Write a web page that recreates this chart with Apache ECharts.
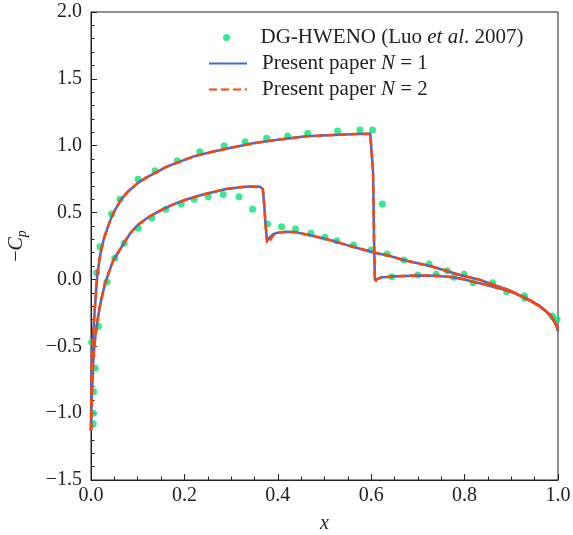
<!DOCTYPE html>
<html>
<head>
<meta charset="utf-8">
<script src="https://cdn.jsdelivr.net/npm/echarts@6/dist/echarts.min.js"></script>
<style>html,body{margin:0;padding:0;background:#fff;}#c{width:573px;height:535px;}</style>
</head>
<body>
<div id="c"></div>
<script>
// Upper surface (shock near x = 0.61)
var xUpper = [0, 0.0005, 0.0015, 0.003, 0.005, 0.0086, 0.012, 0.014, 0.017, 0.021, 0.028, 0.035, 0.041, 0.05, 0.065, 0.08, 0.1, 0.12, 0.14, 0.16, 0.186, 0.22, 0.26, 0.3, 0.35, 0.4, 0.46, 0.52, 0.57, 0.598, 0.602, 0.604, 0.606, 0.608, 0.612, 0.62, 0.64, 0.67, 0.7, 0.74, 0.775, 0.8, 0.818, 0.84, 0.861, 0.88, 0.897, 0.915, 0.93, 0.945, 0.961, 0.975, 0.985, 0.993, 0.998, 1.0];
var cpUpperN1 = [-1.13, -0.95, -0.65, -0.5, -0.38, -0.2, -0.03, 0.05, 0.12, 0.21, 0.31, 0.38, 0.44, 0.51, 0.6, 0.66, 0.72, 0.765, 0.8, 0.84, 0.875, 0.92, 0.955, 0.985, 1.02, 1.045, 1.07, 1.08, 1.087, 1.09, 1.08, 0.8, 0.3, -0.005, 0.005, 0.014, 0.021, 0.026, 0.03, 0.028, 0.017, 0.0, -0.017, -0.035, -0.055, -0.072, -0.09, -0.115, -0.14, -0.165, -0.2, -0.24, -0.28, -0.32, -0.36, -0.39];
var cpUpperN2 = [-1.13, -0.95, -0.65, -0.5, -0.38, -0.2, -0.03, 0.05, 0.12, 0.21, 0.31, 0.38, 0.44, 0.51, 0.6, 0.66, 0.72, 0.765, 0.8, 0.84, 0.875, 0.92, 0.955, 0.985, 1.02, 1.045, 1.07, 1.08, 1.087, 1.09, 1.085, 0.8, 0.3, -0.017, 0.0, 0.012, 0.02, 0.026, 0.03, 0.028, 0.017, 0.0, -0.017, -0.035, -0.055, -0.072, -0.09, -0.115, -0.14, -0.165, -0.2, -0.24, -0.28, -0.32, -0.36, -0.39];

// Lower surface (shock near x = 0.37)
var xLower = [0, 0.0005, 0.0015, 0.003, 0.005, 0.008, 0.012, 0.018, 0.024, 0.03, 0.04, 0.048, 0.056, 0.072, 0.085, 0.1, 0.125, 0.151, 0.175, 0.201, 0.24, 0.287, 0.319, 0.34, 0.362, 0.368, 0.371, 0.374, 0.377, 0.379, 0.383, 0.39, 0.4, 0.419, 0.44, 0.469, 0.5, 0.526, 0.55, 0.576, 0.608, 0.64, 0.669, 0.726, 0.76, 0.79, 0.83, 0.861, 0.895, 0.925, 0.961, 0.985, 0.998, 1.0];
var cpLowerN1 = [-1.13, -1.0, -0.9, -0.75, -0.6, -0.47, -0.35, -0.22, -0.12, -0.03, 0.07, 0.145, 0.19, 0.28, 0.35, 0.407, 0.47, 0.52, 0.56, 0.594, 0.635, 0.675, 0.69, 0.695, 0.693, 0.675, 0.55, 0.4, 0.29, 0.285, 0.315, 0.338, 0.35, 0.357, 0.352, 0.33, 0.305, 0.28, 0.255, 0.23, 0.2, 0.175, 0.145, 0.1, 0.065, 0.033, 0.0, -0.04, -0.08, -0.13, -0.2, -0.27, -0.35, -0.38];
var cpLowerN2 = [-1.13, -1.0, -0.9, -0.75, -0.6, -0.47, -0.35, -0.22, -0.12, -0.03, 0.07, 0.145, 0.19, 0.28, 0.35, 0.407, 0.47, 0.52, 0.56, 0.594, 0.635, 0.675, 0.69, 0.695, 0.693, 0.675, 0.55, 0.4, 0.27, 0.262, 0.29, 0.33, 0.348, 0.357, 0.352, 0.33, 0.305, 0.28, 0.255, 0.23, 0.2, 0.175, 0.145, 0.1, 0.065, 0.033, 0.0, -0.04, -0.08, -0.13, -0.2, -0.27, -0.35, -0.38];

// DG-HWENO reference points (Luo et al. 2007)
var refX = [0.005, 0.005, 0.006, 0.009, 0.0015, 0.012, 0.019, 0.044, 0.062, 0.101, 0.137, 0.185, 0.233, 0.285, 0.33, 0.376, 0.421, 0.464, 0.528, 0.576, 0.603, 0.624,
            0.644, 0.7, 0.739, 0.777, 0.818, 0.89, 0.929, 0.988, 0.998,
            0.016, 0.034, 0.051, 0.071, 0.101, 0.13, 0.16, 0.193, 0.221, 0.251, 0.283, 0.317, 0.346, 0.378, 0.408, 0.438, 0.471, 0.501, 0.526, 0.562, 0.6, 0.634, 0.67, 0.724, 0.763, 0.799, 0.86, 0.928];
var refCp = [-1.08, -1.0, -0.84, -0.665, -0.47, 0.05, 0.245, 0.49, 0.6, 0.749, 0.813, 0.888, 0.955, 1.0, 1.03, 1.055, 1.073, 1.093, 1.11, 1.117, 1.117, 0.564,
             0.02, 0.033, 0.038, 0.016, -0.025, -0.092, -0.14, -0.274, -0.3,
             -0.35, -0.02, 0.158, 0.27, 0.382, 0.46, 0.524, 0.564, 0.6, 0.618, 0.636, 0.618, 0.524, 0.414, 0.394, 0.377, 0.345, 0.315, 0.29, 0.257, 0.22, 0.19, 0.145, 0.115, 0.065, 0.038, -0.025, -0.122];

var xTicks = [0.0, 0.2, 0.4, 0.6, 0.8, 1.0];
var yTicks = [-1.5, -1.0, -0.5, 0.0, 0.5, 1.0, 1.5, 2.0];

function zip(a, b) { return a.map(function (v, i) { return [v, b[i]]; }); }

var FONT = 'Liberation Serif';
var AX = '#222';
var TXT = '#222';
var chart = echarts.init(document.getElementById('c'), null, { renderer: 'canvas' });
var fmt = function (v) { return v.toFixed(1).replace('-', '\u2212'); };

var legendRich = {
  r: { fontFamily: FONT, fontSize: 21, color: TXT },
  i: { fontFamily: FONT, fontSize: 21, color: TXT, fontStyle: 'italic' }
};

chart.setOption({
  animation: false,
  backgroundColor: '#fff',
  grid: { left: 91, right: 15, top: 12, bottom: 55, show: true, borderColor: AX, borderWidth: 1, backgroundColor: 'transparent', outerBoundsMode: 'none', containLabel: false },
  legend: [
    {
      data: ['DG-HWENO'], left: 223, top: 27, orient: 'vertical', padding: 0,
      itemWidth: 38, itemHeight: 7, icon: 'circle',
      formatter: function () { return '{r|DG-HWENO (Luo }{i|et al}{r|. 2007)}'; },
      textStyle: { fontFamily: FONT, fontSize: 21, padding: [0, 0, 0, 10], rich: legendRich }
    },
    {
      data: ['N1', 'N2'], left: 208, top: 53, orient: 'vertical', itemGap: 5, padding: 0,
      itemWidth: 38, itemHeight: 14,
      itemStyle: { opacity: 0 },
      formatter: function (n) { return n === 'N1' ? '{r|Present paper }{i|N}{r| = 1}' : '{r|Present paper }{i|N}{r| = 2}'; },
      textStyle: { fontFamily: FONT, fontSize: 21, padding: [0, 0, 0, 10], rich: legendRich }
    }
  ],
  xAxis: {
    type: 'value', min: xTicks[0], max: xTicks[xTicks.length - 1], interval: 0.2,
    name: 'x', nameLocation: 'middle', nameGap: 34,
    nameTextStyle: { fontFamily: FONT, fontSize: 20, fontStyle: 'italic', color: TXT },
    axisLine: { show: true, onZero: false, lineStyle: { color: AX, width: 1 } },
    axisTick: { show: true, inside: true, length: 6, lineStyle: { color: AX } },
    minorTick: { show: true, splitNumber: 4, length: 3.5, lineStyle: { color: AX } },
    axisLabel: { formatter: fmt, fontFamily: FONT, fontSize: 20, color: TXT, margin: 6 },
    splitLine: { show: false }
  },
  yAxis: {
    type: 'value', min: yTicks[0], max: yTicks[yTicks.length - 1], interval: 0.5,
    name: '{m|\u2212}{c|C}{p|p}', nameLocation: 'middle', nameGap: 62, nameRotate: 90,
    nameTextStyle: {
      fontFamily: FONT, fontSize: 20, color: TXT,
      rich: {
        m: { fontFamily: FONT, fontSize: 20, color: TXT },
        c: { fontFamily: FONT, fontSize: 20, color: TXT, fontStyle: 'italic' },
        p: { fontFamily: FONT, fontSize: 14, color: TXT, fontStyle: 'italic', padding: [10, 0, 0, 0] }
      }
    },
    axisLine: { show: true, onZero: false, lineStyle: { color: AX, width: 1 } },
    axisTick: { show: true, inside: true, length: 6, lineStyle: { color: AX } },
    minorTick: { show: true, splitNumber: 5, length: 3.5, lineStyle: { color: AX } },
    axisLabel: { formatter: fmt, fontFamily: FONT, fontSize: 20, color: TXT, margin: 9 },
    splitLine: { show: false }
  },
  series: [
    { name: 'DG-HWENO', type: 'scatter', data: zip(refX, refCp), symbolSize: 7, itemStyle: { color: '#00e676' }, z: 2 },
    { name: 'N1', type: 'line', data: zip(xUpper, cpUpperN1), showSymbol: false, symbol: 'none', lineStyle: { color: '#4169e1', width: 2.5 }, itemStyle: { color: '#4169e1' }, z: 3 },
    { name: 'N1', type: 'line', data: zip(xLower, cpLowerN1), showSymbol: false, symbol: 'none', lineStyle: { color: '#4169e1', width: 2.5 }, itemStyle: { color: '#4169e1' }, z: 3 },
    { name: 'N2', type: 'line', data: zip(xUpper, cpUpperN2), showSymbol: false, symbol: 'none', lineStyle: { color: '#ff4500', width: 2.5, type: [8, 4] }, itemStyle: { color: '#ff4500' }, z: 4 },
    { name: 'N2', type: 'line', data: zip(xLower, cpLowerN2), showSymbol: false, symbol: 'none', lineStyle: { color: '#ff4500', width: 2.5, type: [8, 4] }, itemStyle: { color: '#ff4500' }, z: 4 }
  ]
});
</script>
</body>
</html>
